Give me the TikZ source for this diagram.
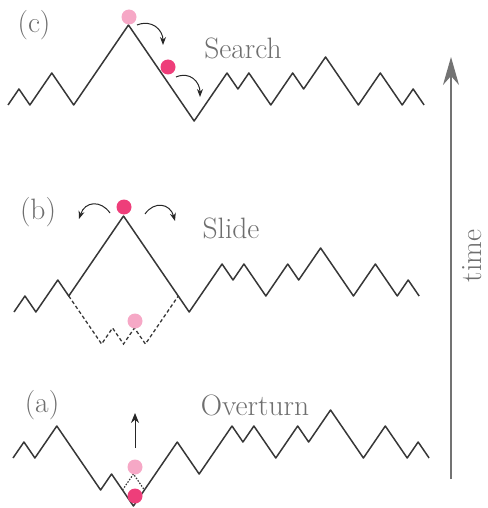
\documentclass[tikz,border=0pt]{standalone}
\usetikzlibrary{arrows.meta}
\definecolor{linegray}{RGB}{55,55,55}
\definecolor{txtgray}{RGB}{110,110,110}
\definecolor{hotpink}{RGB}{238,62,122}
\definecolor{softpink}{RGB}{246,168,198}
\tikzset{
  zig/.style={draw=linegray, line width=1.5pt, line join=round},
  dashzig/.style={draw=linegray, line width=1.3pt, dash pattern=on 3.5pt off 2.5pt},
  dotzig/.style={draw=linegray, line width=1.2pt, dash pattern=on 1.5pt off 1.5pt},
  lbl/.style={text=txtgray, font=\fontsize{29.5}{33}\selectfont, inner sep=0pt},
  hop/.style={draw=black!85, line width=1pt, -{Stealth[length=8pt,width=6pt]}},
  hotdot/.style={fill=hotpink, draw=none},
  softdot/.style={fill=softpink, draw=none}
}
\begin{document}
\begin{tikzpicture}[x=1pt,y=-1pt]
\useasboundingbox (0,0) rectangle (487,508);
% ---------- panel (c)
\begin{scope}[shift={(8,105)}, x=10.95pt, y=16pt]
\draw[zig] (0,0) -- (1,1) -- (2,0) -- (4,2) -- (6,0) -- (11,5) -- (17,-1) -- (20,2) -- (21,1) -- (22,2) -- (24,0) -- (26,2) -- (27,1) -- (29,3) -- (32,0) -- (34,2) -- (36,0) -- (37,1) -- (38,0);
\end{scope}
\fill[softdot] (129,17) circle (7.5);
\fill[hotdot] (168,67) circle (7.5);
\coordinate (c1s) at (137,25);
\coordinate (c1e) at (163,45);
\coordinate (c2s) at (176,77);
\coordinate (c2e) at (200,97);
\draw[hop] (c1s) .. controls (152,19) and (163,30) .. (c1e);
\draw[hop] (c2s) .. controls (190,71) and (200,82) .. (c2e);
\node[lbl] (lc) at (34,25) {(c)};
\node[lbl] (ls) at (243,48) {Search};
% ---------- panel (b)
\begin{scope}[shift={(14,312)}, x=10.95pt, y=16pt]
\draw[zig] (0,0) -- (1,1) -- (2,0) -- (4,2) -- (5,1) -- (10,6) -- (15,1) -- (16,0) -- (19,3) -- (20,2) -- (21,3) -- (23,1) -- (25,3) -- (26,2) -- (28,4) -- (31,1) -- (33,3) -- (35,1) -- (36,2) -- (37,1);
\draw[dashzig] (5,1) -- (8,-2) -- (9,-1) -- (10,-2) -- (11,-1) -- (12,-2) -- (15,1);
\end{scope}
\fill[hotdot] (124,207) circle (7.5);
\fill[softdot] (135,321) circle (7.5);
\coordinate (b1s) at (110,213);
\coordinate (b1e) at (79,219);
\coordinate (b2s) at (145,214);
\coordinate (b2e) at (175,221);
\draw[hop] (b1s) .. controls (101,200) and (85,201) .. (b1e);
\draw[hop] (b2s) .. controls (154,201) and (170,203) .. (b2e);
\node[lbl] (lb) at (38,212) {(b)};
\node[lbl] (lsl) at (231,228) {Slide};
% ---------- panel (a)
\begin{scope}[shift={(13,458)}, x=10.95pt, y=16pt]
\draw[zig] (0,0) -- (1,1) -- (2,0) -- (4,2) -- (8,-2) -- (9,-1) -- (11,-3) -- (15,1) -- (17,-1) -- (20,2) -- (21,1) -- (22,2) -- (24,0) -- (26,2) -- (27,1) -- (29,3) -- (32,0) -- (34,2) -- (36,0) -- (37,1) -- (38,0);
\draw[dotzig] (10,-2) -- (11,-1) -- (12,-2);
\end{scope}
\fill[softdot] (135,467) circle (7.5);
\fill[hotdot] (135,496) circle (7.5);
\coordinate (as) at (135,448);
\coordinate (ae) at (135,413);
\draw[draw=black!85, line width=1pt, -{Stealth[length=10pt,width=8pt]}] (as) -- (ae);
\node[lbl] (la) at (42,405) {(a)};
\node[lbl] (lo) at (255,405) {Overturn};
% ---------- time axis
\coordinate (t0) at (451,479);
\coordinate (t1) at (451,57);
\draw[draw=gray!90!black, line width=1.3pt, -{Stealth[length=28pt,width=16pt,inset=9pt]}] (t0) -- (t1);
\node[lbl, rotate=90] (lt) at (472.5,256) {time};
\end{tikzpicture}
\end{document}
